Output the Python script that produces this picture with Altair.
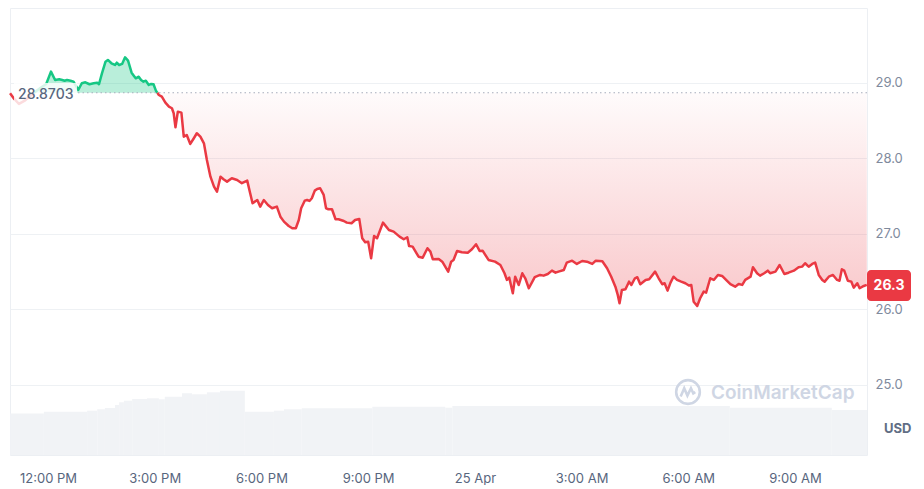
import json
import altair as alt
import pandas as pd

# ---------------- data ----------------
BASE_PRICE = 28.8703          # opening reference price (dotted line)
LAST_LABEL = "26.3"            # current price tag
CURRENCY = "USD"
WATERMARK = "CoinMarketCap"

# minutes after 12:00 PM (24 Apr)
minutes = [
    -64, -57, -49, -40, -32, -24, -13, -3, 5, 12,
    19, 24, 28, 32, 38, 43, 51, 57, 63, 70,
    77, 83, 86, 91, 97, 101, 107, 113, 116, 120,
    125, 130, 135, 141, 145, 148, 153, 157, 161, 165,
    170, 174, 178, 182, 187, 192, 198, 204, 209, 212,
    215, 219, 225, 229, 234, 240, 246, 251, 257, 263,
    268, 274, 280, 285, 291, 296, 302, 310, 319, 327,
    336, 341, 345, 353, 358, 364, 371, 378, 386, 392,
    398, 406, 412, 418, 423, 427, 433, 437, 441, 445,
    450, 454, 459, 465, 469, 473, 479, 485, 490, 499,
    504, 512, 518, 525, 530, 535, 540, 545, 550, 555,
    565, 575, 583, 593, 600, 606, 609, 615, 625, 632,
    640, 645, 649, 659, 665, 675, 680, 684, 690, 698,
    708, 715, 722, 728, 733, 743, 754, 763, 770, 774,
    778, 784, 788, 794, 800, 805, 811, 821, 830, 836,
    843, 850, 856, 861, 870, 875, 884, 892, 901, 909,
    918, 924, 935, 943, 950, 957, 961, 964, 968, 974,
    980, 984, 990, 994, 999, 1008, 1014, 1024, 1030, 1036,
    1040, 1045, 1050, 1055, 1061, 1068, 1075, 1081, 1085, 1089,
    1095, 1100, 1106, 1110, 1117, 1123, 1130, 1137, 1145, 1151,
    1159, 1165, 1171, 1176, 1185, 1189, 1196, 1201, 1208, 1214,
    1218, 1227, 1234, 1242, 1249, 1258, 1266, 1272, 1277, 1283,
    1289, 1294, 1300, 1306, 1310, 1317, 1324, 1331, 1335, 1339,
    1343, 1349, 1355, 1359, 1365, 1369, 1376, 1381,
]

prices = [
    28.865, 28.788, 28.722, 28.762, 28.815, 28.868, 28.934, 28.987, 29.150, 29.040,
    29.049, 29.040, 29.030, 29.040, 29.030, 29.017, 28.907, 28.996, 29.009, 28.983,
    28.996, 29.004, 28.983, 29.128, 29.282, 29.305, 29.261, 29.238, 29.269, 29.238,
    29.252, 29.340, 29.295, 29.136, 29.093, 29.062, 29.083, 29.040, 29.017, 29.030,
    28.974, 28.987, 28.983, 28.898, 28.841, 28.819, 28.739, 28.686, 28.665, 28.599,
    28.413, 28.620, 28.607, 28.289, 28.311, 28.192, 28.268, 28.334, 28.289, 28.201,
    27.980, 27.759, 27.627, 27.560, 27.759, 27.725, 27.693, 27.738, 27.715, 27.672,
    27.706, 27.539, 27.407, 27.450, 27.362, 27.450, 27.384, 27.340, 27.362, 27.229,
    27.163, 27.106, 27.076, 27.076, 27.185, 27.340, 27.441, 27.450, 27.437, 27.473,
    27.574, 27.596, 27.605, 27.517, 27.340, 27.327, 27.327, 27.195, 27.195, 27.172,
    27.150, 27.142, 27.185, 27.199, 26.943, 26.890, 26.898, 26.678, 26.974, 26.943,
    27.150, 27.053, 27.031, 26.964, 26.930, 26.956, 26.841, 26.832, 26.699, 26.686,
    26.811, 26.766, 26.665, 26.669, 26.633, 26.501, 26.633, 26.656, 26.775, 26.758,
    26.752, 26.797, 26.864, 26.775, 26.779, 26.656, 26.633, 26.589, 26.479, 26.391,
    26.421, 26.215, 26.434, 26.324, 26.479, 26.413, 26.281, 26.427, 26.457, 26.448,
    26.470, 26.514, 26.487, 26.501, 26.523, 26.620, 26.646, 26.603, 26.642, 26.633,
    26.603, 26.646, 26.638, 26.546, 26.434, 26.302, 26.192, 26.082, 26.258, 26.267,
    26.368, 26.325, 26.413, 26.427, 26.334, 26.391, 26.400, 26.501, 26.413, 26.334,
    26.347, 26.249, 26.355, 26.434, 26.391, 26.368, 26.347, 26.318, 26.325, 26.103,
    26.046, 26.148, 26.236, 26.222, 26.413, 26.391, 26.457, 26.444, 26.381, 26.334,
    26.302, 26.338, 26.325, 26.391, 26.434, 26.559, 26.479, 26.448, 26.479, 26.514,
    26.479, 26.501, 26.589, 26.470, 26.487, 26.514, 26.559, 26.567, 26.612, 26.567,
    26.603, 26.620, 26.457, 26.391, 26.368, 26.434, 26.457, 26.391, 26.381, 26.532,
    26.514, 26.381, 26.368, 26.289, 26.347, 26.281, 26.311, 26.325,
]

# volume (24h, millions USD), step levels starting at these minutes
vol_start = [-64, -7, 66, 83, 96, 113, 120, 128, 142, 167, 187, 197, 226,
             243, 268, 290, 332, 381, 398, 428, 547, 670, 682, 1150, 1322]
vol_level = [106.8, 111.4, 114.0, 117.6, 120.9, 128.7, 135.6, 139.7, 144.1,
             145.9, 143.3, 150.0, 158.7, 156.2, 161.3, 165.4, 111.4, 114.0,
             117.6, 120.2, 124.3, 121.7, 126.1, 121.7, 115.8]

tick_minutes = [0, 180, 360, 540, 720, 900, 1080, 1260]
tick_labels = ["12:00 PM", "3:00 PM", "6:00 PM", "9:00 PM", "25 Apr",
               "3:00 AM", "6:00 AM", "9:00 AM"]
price_ticks = [25.0, 26.0, 27.0, 28.0, 29.0]

# ---------------- styling ----------------
X_MIN, X_MAX = -64.1, 1381.4
Y_MIN, Y_MAX = 24.072, 29.993
GREEN = "#16c784"
RED = "#ea3943"
AXIS_TXT = "#58667e"
Y_TXT = "#808a9d"
GRID = "#eef1f4"
FONT = "Inter"

# ---------------- build tables ----------------
n = min(len(minutes), len(prices))
rows = []
seg = 0


def side(p):
    return "up" if p >= BASE_PRICE else "down"


pt, pp = minutes[0], prices[0]
rows.append(dict(t=pt, p=pp, seg=seg, side=side(pp)))
for t, p in zip(minutes[1:n], prices[1:n]):
    if (pp - BASE_PRICE) * (p - BASE_PRICE) < 0:
        tc = pt + (BASE_PRICE - pp) / (p - pp) * (t - pt)
        rows.append(dict(t=tc, p=BASE_PRICE, seg=seg, side=side(pp)))
        seg += 1
        rows.append(dict(t=tc, p=BASE_PRICE, seg=seg, side=side(p)))
    rows.append(dict(t=t, p=p, seg=seg, side=side(p)))
    pt, pp = t, p

line_df = pd.DataFrame(rows)
line_df["up"] = line_df["p"].clip(lower=BASE_PRICE)
line_df["dn"] = line_df["p"].clip(upper=BASE_PRICE)
line_df["base"] = BASE_PRICE

vol_end = vol_start[1:] + [X_MAX]
vol_df = pd.DataFrame({"vs": vol_start, "ve": vol_end, "vol": vol_level,
                       "z": [0] * len(vol_level)})

label_expr = "%s[round(datum.value / 180)]" % json.dumps(tick_labels)

X_SCALE = alt.Scale(domain=[X_MIN, X_MAX], nice=False, zero=False)
X_AXIS = alt.Axis(values=tick_minutes, labelExpr=label_expr, labelFont=FONT,
                  labelFontSize=13, labelColor=AXIS_TXT, domain=False,
                  ticks=False, grid=False, labelPadding=17, title=None,
                  labelFlush=False, labelOverlap=False)
Y_SCALE = alt.Scale(domain=[Y_MIN, Y_MAX], nice=False, zero=False)
Y_AXIS = alt.Axis(orient="right", values=price_ticks, format=".1f",
                  labelFont=FONT, labelFontSize=13, labelColor=Y_TXT,
                  domain=False, ticks=False, labelPadding=8, grid=True,
                  gridColor=GRID, gridWidth=1, title=None)


def X(field):
    return alt.X(f"{field}:Q", scale=X_SCALE, axis=X_AXIS)


def Y(field):
    return alt.Y(f"{field}:Q", scale=Y_SCALE, axis=Y_AXIS)


# ---------------- layers ----------------
volume = alt.Chart(vol_df).mark_rect(color="#f1f3f6").encode(
    x=X("vs"), x2="ve",
    y=alt.Y("vol:Q", scale=alt.Scale(domain=[0, 1150], nice=False), axis=None),
    y2="z",
)

red_fill = {
    "gradient": "linear", "x1": 1, "x2": 1, "y1": 0, "y2": 1,
    "stops": [
        {"offset": 0, "color": "rgba(234,57,67,0.02)"},
        {"offset": 1, "color": "rgba(234,57,67,0.28)"},
    ],
}
red_area = alt.Chart(line_df).mark_area(color=red_fill).encode(
    x=X("t"), y=Y("dn"), y2="base")

green_area = alt.Chart(line_df).mark_area(color=GREEN, opacity=0.3).encode(
    x=X("t"), y=Y("up"), y2="base")

price_line = alt.Chart(line_df).mark_line(strokeWidth=2.5, strokeJoin="round").encode(
    x=X("t"), y=Y("p"),
    detail="seg:N",
    order="t:Q",
    color=alt.Color("side:N", scale=alt.Scale(domain=["up", "down"],
                                               range=[GREEN, RED]), legend=None),
)

base_df = pd.DataFrame({"base": [BASE_PRICE], "label": [f"{BASE_PRICE}"]})
base_rule = alt.Chart(base_df).mark_rule(
    color="#a6adbb", strokeDash=[1.5, 3], strokeWidth=1).encode(
    y=Y("base"), x=alt.value(68), x2=alt.value(857))

label_box = alt.Chart(base_df).mark_rect(color="white", opacity=0.82).encode(
    x=alt.value(4), x2=alt.value(67), y=alt.value(75), y2=alt.value(98))
label_text = alt.Chart(base_df).mark_text(
    align="left", baseline="middle", font=FONT, fontSize=14, fontWeight=500,
    color=AXIS_TXT).encode(text="label:N", x=alt.value(8), y=alt.value(87))

wm_df = pd.DataFrame({"label": [WATERMARK]})
wm_text = alt.Chart(wm_df).mark_text(
    align="left", baseline="middle", font=FONT, fontSize=19, fontWeight=600,
    color="#cfd6e4").encode(text="label:N", x=alt.value(701), y=alt.value(385))
wm_circle = alt.Chart(wm_df).mark_point(
    shape="circle", filled=False, size=560, strokeWidth=2.6,
    color="#cfd6e4", opacity=1).encode(x=alt.value(678), y=alt.value(384))
wm_wave = alt.Chart(wm_df).mark_point(
    shape="M -0.62 0.38 L -0.32 -0.32 L -0.05 0.3 L 0.25 -0.32 L 0.45 0.12 L 0.62 0.02",
    filled=False, size=560, strokeWidth=2.6, color="#cfd6e4",
    opacity=1).encode(x=alt.value(678), y=alt.value(384))

tag_df = pd.DataFrame({"label": [LAST_LABEL]})
price_box = alt.Chart(tag_df).mark_rect(color=RED, cornerRadius=4).encode(
    x=alt.value(857), x2=alt.value(901), y=alt.value(262), y2=alt.value(293))
price_text = alt.Chart(tag_df).mark_text(
    align="center", baseline="middle", font=FONT, fontSize=14,
    fontWeight="bold", color="white").encode(
    text="label:N", x=alt.value(879), y=alt.value(278))

usd_df = pd.DataFrame({"label": [CURRENCY]})
usd_text = alt.Chart(usd_df).mark_text(
    align="left", baseline="middle", font=FONT, fontSize=13,
    fontWeight="bold", color="#616e85").encode(
    text="label:N", x=alt.value(874), y=alt.value(421))

inner = alt.layer(red_area, green_area, price_line, base_rule, label_box,
                  label_text, wm_circle, wm_wave, wm_text, price_box,
                  price_text, usd_text)

chart = alt.layer(volume, inner).resolve_scale(y="independent").properties(
    width=857, height=447, padding=0, background="white",
).configure_view(stroke="#eceff3", strokeWidth=1)

chart.save("out.html", embed_options={"renderer": "svg", "actions": False})
